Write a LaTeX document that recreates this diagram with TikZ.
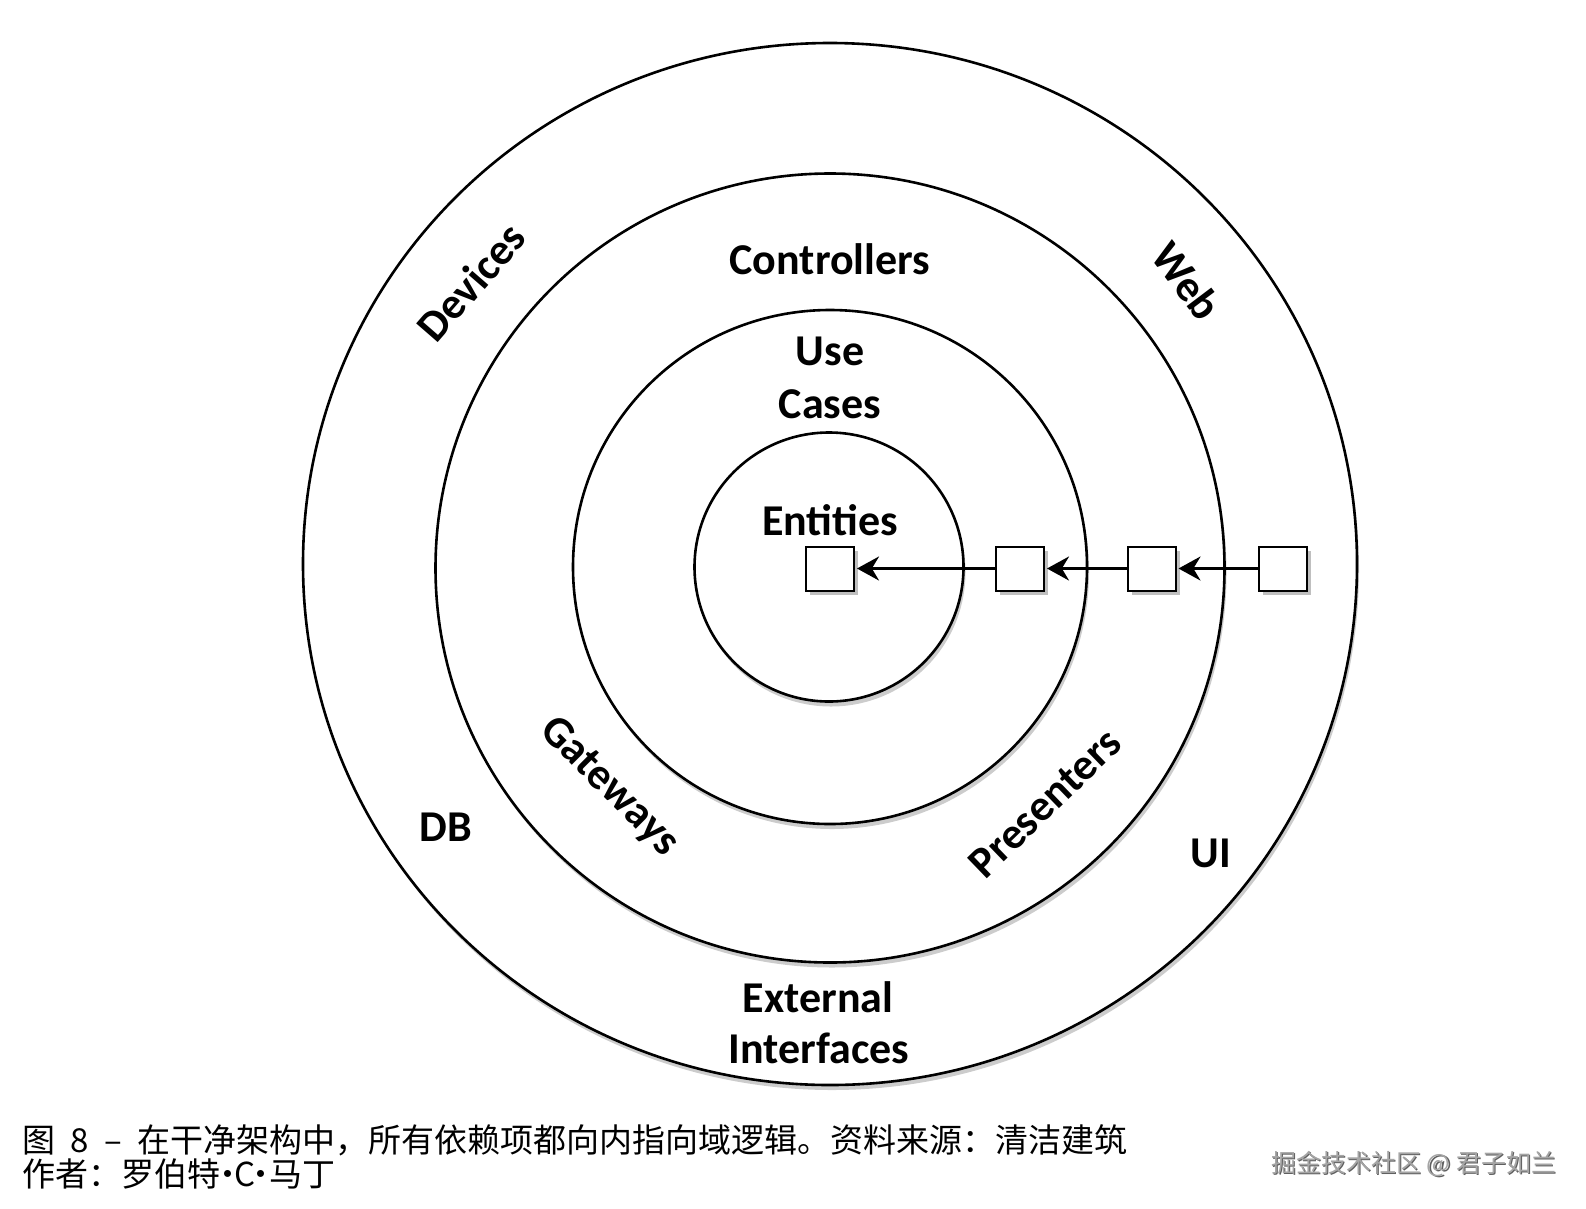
\documentclass[tikz,border=0pt]{standalone}
\usepackage{fontspec}
\setmainfont{Carlito}
\newfontfamily\cjk{Noto Sans CJK SC}
\usetikzlibrary{arrows.meta,shadows,shapes.geometric}
\definecolor{wmgray}{RGB}{165,165,165}
\definecolor{wmshade}{RGB}{95,95,95}
\begin{document}
\begin{tikzpicture}[x=1pt,y=-1pt,
  ring/.style={draw=black, line width=2.6pt, fill=white, inner sep=0pt,
    drop shadow={shadow xshift=2pt, shadow yshift=-5pt, fill=black, opacity=0.2}},
  lbl/.style={font=\fontsize{44}{53}\selectfont\bfseries, inner sep=0pt},
  layerbox/.style={draw=black, line width=2pt, fill=white, minimum width=48pt,
    minimum height=44pt, inner sep=0pt,
    drop shadow={shadow xshift=4pt, shadow yshift=-4pt, fill=black, opacity=0.25}},
  dep/.style={-{Stealth[length=22pt,width=24pt]}, line width=2.8pt, shorten >=2pt},
  captext/.style={font=\cjk\fontsize{33}{33}\selectfont, inner sep=0pt, anchor=base west},
  wmtext/.style={font=\cjk\fontsize{25}{25}\selectfont, inner sep=0pt, anchor=base west}
]
\fill[white] (0,0) rectangle (1586,1208);
\useasboundingbox (0,0) rectangle (1586,1208);

% rings
\node[ring, ellipse, minimum width=1054pt, minimum height=1042pt] (outer) at (830,564) {};
\node[ring, circle, minimum size=789pt] (ifa) at (830,568) {};
\node[ring, circle, minimum size=514pt] (uc) at (830,567) {};
\node[ring, circle, minimum size=269pt] (ent) at (829,567) {};

% labels
\node[lbl, anchor=base] (controllers) at (830,274) {Controllers};
\node[lbl, anchor=base] (use) at (830,365) {Use};
\node[lbl, anchor=base] (cases) at (830,418) {Cases};
\node[lbl, anchor=base] (entities) at (830,535) {Entities};
\node[lbl, anchor=base] (external) at (818,1012) {External};
\node[lbl, anchor=base] (interfaces) at (819,1063) {Interfaces};
\node[lbl, anchor=base] (db) at (446,841) {DB};
\node[lbl, anchor=base] (ui) at (1211,867) {UI};
\node[lbl, rotate=49] (devices) at (471,282) {Devices};
\node[lbl, rotate=-53] (web) at (1187,281) {Web};
\node[lbl, rotate=-45] (gateways) at (609,787) {Gateways};
\node[lbl, rotate=44] (presenters) at (1045,803) {Presenters};

% boxes and dependencies
\node[layerbox] (b1) at (830,568.5) {};
\node[layerbox] (b2) at (1020,568.5) {};
\node[layerbox] (b3) at (1151.5,568.5) {};
\node[layerbox] (b4) at (1283,568.5) {};
\draw[dep] (b4.west) -- (b3.east);
\draw[dep] (b3.west) -- (b2.east);
\draw[dep] (b2.west) -- (b1.east);

% caption
\node[captext] (cap1) at (22,1152) {图\makebox[0.5em]{}\makebox[0.5em]{8}\makebox[0.5em]{}\makebox[0.5em]{–}\makebox[0.5em]{}在干净架构中，所有依赖项都向内指向域逻辑。资料来源：清洁建筑};
\node[captext] (cap2) at (22,1186) {作者：罗伯特\makebox[0.5em]{·}\makebox[0.5em]{C}\makebox[0.5em]{·}马丁};

% watermark
\node[wmtext, text=wmshade] (wmsh) at (1272.3,1173.3) {掘金技术社区 @ 君子如兰};
\node[wmtext, text=wmgray] (wm) at (1271,1172) {掘金技术社区 @ 君子如兰};
\end{tikzpicture}
\end{document}
